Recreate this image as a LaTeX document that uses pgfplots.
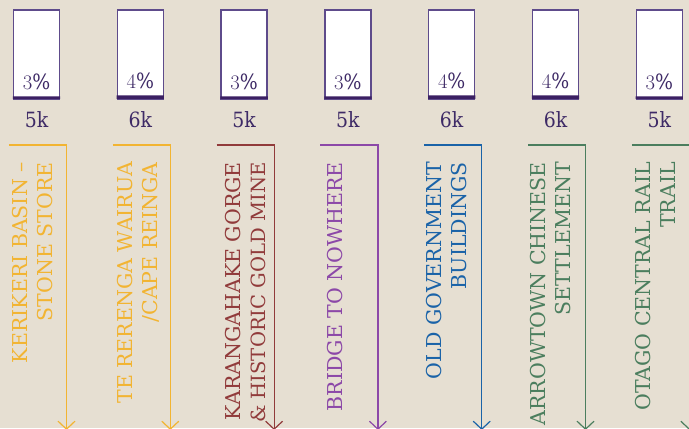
\documentclass[border=0pt]{standalone}
\usepackage{pgfplots}
\usepackage{pgfplotstable}
\pgfplotsset{compat=1.18}
\usepackage{fontspec}
\setmainfont{DejaVu Serif}
\newfontfamily\slab{DejaVu Serif}
\newfontfamily\slabc{DejaVu Serif Condensed}
\usetikzlibrary{arrows.meta}
\definecolor{bg}{HTML}{E6DFD2}
\definecolor{boxc}{HTML}{5E4B8B}
\definecolor{barc}{HTML}{3B2063}
\definecolor{numc}{HTML}{3E2A66}
\definecolor{cyel}{HTML}{F2B432}
\definecolor{cred}{HTML}{913B3B}
\definecolor{cpur}{HTML}{8C48A8}
\definecolor{cblu}{HTML}{1A63A8}
\definecolor{cgrn}{HTML}{4B7E5E}
\pgfplotstableread{
x full pct vis
0 100 3 5k
1 100 4 6k
2 100 3 5k
3 100 3 5k
4 100 4 6k
5 100 4 6k
6 100 3 5k
}\datatable
\newcommand{\lblfont}{\slab\fontsize{20.5bp}{25.5bp}\selectfont}
\newcommand{\numfont}{\slabc\fontsize{21bp}{24bp}\selectfont}
\begin{document}
\begin{tikzpicture}[x=1bp,y=1bp]
\useasboundingbox (0,0) rectangle (689,428);
\fill[bg] (0,0) rectangle (689,428);
\begin{axis}[at={(0,0)}, anchor=south west, scale only axis,
  width=689bp, height=428bp, xmin=-0.3516, xmax=6.286, ymin=-369.663, ymax=111.236,
  clip=false, hide axis]
\addplot[ybar, bar width=46bp, bar shift=0pt, fill=white, draw=boxc, line width=1.3bp,
  point meta=explicit symbolic, nodes near coords,
  nodes near coords style={font=\numfont, text=numc, anchor=base, yshift=-118bp}]
  table[x=x, y=full, meta=vis]{\datatable};
\addplot[ybar, bar width=47.3bp, bar shift=0pt, fill=barc, draw=none,
  nodes near coords={\pgfmathprintnumber{\pgfplotspointmeta}\%},
  nodes near coords style={font=\numfont, text=numc, anchor=base, yshift=7bp}]
  table[x=x, y=pct]{\datatable};
\end{axis}
\begin{axis}[at={(0,0)}, anchor=south west, scale only axis,
  width=689bp, height=428bp, xmin=-0.3516, xmax=6.286, ymin=0, ymax=428,
  y dir=reverse, hide axis, clip=false]
\pgfplotsinvokeforeach{0,1}{
\addplot[cyel, line width=1.2bp, -{Straight Barb[length=8bp,width=17bp]}] coordinates {(#1-0.265,145) (#1+0.289,145) (#1+0.289,430)};}
\addplot[cred, line width=1.2bp, -{Straight Barb[length=8bp,width=17bp]}] coordinates {(2-0.265,145) (2+0.289,145) (2+0.289,430)};
\addplot[cpur, line width=1.2bp, -{Straight Barb[length=8bp,width=17bp]}] coordinates {(3-0.265,145) (3+0.289,145) (3+0.289,430)};
\addplot[cblu, line width=1.2bp, -{Straight Barb[length=8bp,width=17bp]}] coordinates {(4-0.265,145) (4+0.289,145) (4+0.289,430)};
\pgfplotsinvokeforeach{5,6}{
\addplot[cgrn, line width=1.2bp, -{Straight Barb[length=8bp,width=17bp]}] coordinates {(#1-0.265,145) (#1+0.289,145) (#1+0.289,430)};}
\tikzset{lbl/.style={rotate=90, anchor=north east, align=right, inner sep=0pt, font=\lblfont}}
\node[xshift=-24.5bp, lbl, text=cyel] at (axis cs:0,162) {KERIKERI BASIN –\\STONE STORE};
\node[xshift=-23.5bp, lbl, text=cyel] at (axis cs:1,162) {TE RERENGA WAIRUA\\/CAPE REINGA};
\node[xshift=-19.5bp, lbl, text=cred] at (axis cs:2,162) {KARANGAHAKE GORGE\\{\fontsize{19.6bp}{25.5bp}\selectfont\& HISTORIC GOLD MINE}};
\node[xshift=-20.5bp, lbl, text=cpur] at (axis cs:3,162) {BRIDGE TO NOWHERE};
\node[xshift=-26bp, lbl, text=cblu] at (axis cs:4,162) {OLD GOVERNMENT\\BUILDINGS};
\node[xshift=-25.5bp, lbl, text=cgrn] at (axis cs:5,162) {ARROWTOWN CHINESE\\SETTLEMENT};
\node[xshift=-24.5bp, lbl, text=cgrn] at (axis cs:6,162) {OTAGO CENTRAL RAIL\\TRAIL};
\end{axis}
\end{tikzpicture}
\end{document}
